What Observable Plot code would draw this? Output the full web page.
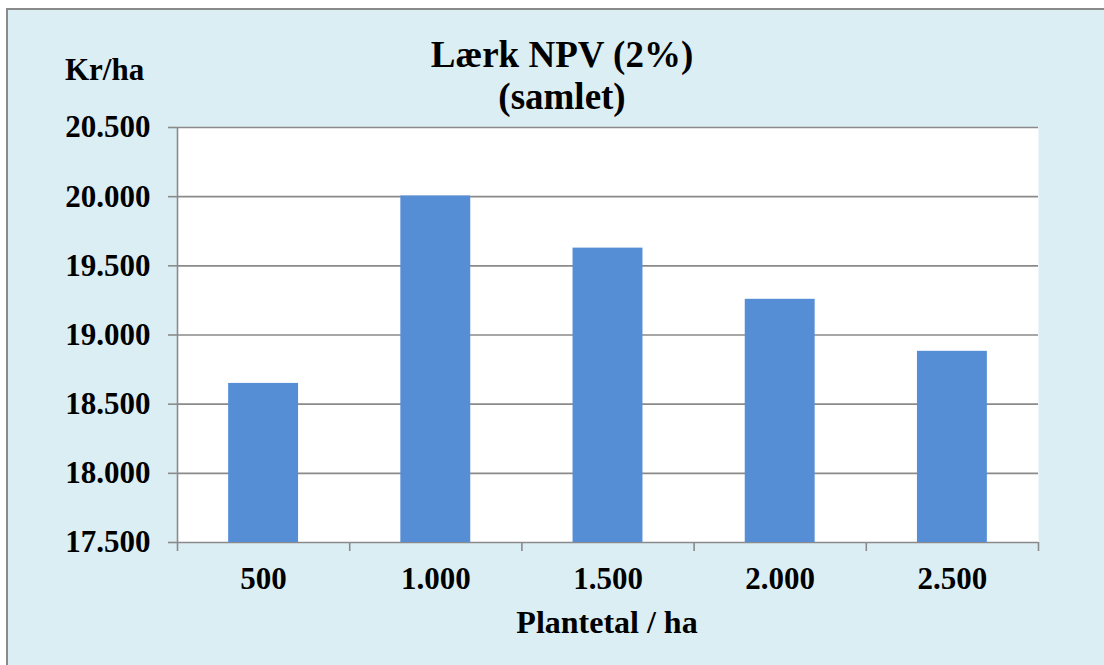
<!DOCTYPE html>
<html>
<head>
<meta charset="utf-8">
<script src="https://cdn.jsdelivr.net/npm/d3@7"></script>
<script src="https://cdn.jsdelivr.net/npm/@observablehq/plot@0.6"></script>
<style>
  html, body { margin: 0; padding: 0; background: #DBEEF4; overflow: hidden; width: 1104px; height: 665px; }
  #wrap { position: relative; width: 1104px; height: 665px; overflow: hidden; background: #DBEEF4; }
  #topstrip { position: absolute; left: 0; top: 0; width: 1104px; height: 8px; background: #ffffff; }
  #leftstrip { position: absolute; left: 0; top: 0; width: 6px; height: 665px; background: #ffffff; }
  #frame { position: absolute; left: 6px; top: 8px; width: 1098px; height: 657px;
           border-left: 2px solid #8a8a8a; border-top: 2px solid #8a8a8a; box-sizing: border-box; }
  .t { position: absolute; font-family: "Liberation Serif", "Times New Roman", serif; font-weight: bold;
       color: #000; line-height: 1; white-space: nowrap; }
  #chart { position: absolute; left: 0; top: 0; }
</style>
</head>
<body>
<div id="wrap">
  <div id="topstrip"></div>
  <div id="leftstrip"></div>
  <div id="frame"></div>
  <div class="t" id="title1" style="font-size:37px; top:36px; left:562px; transform:translateX(-50%);">Lærk NPV (2%)</div>
  <div class="t" id="title2" style="font-size:37px; top:78px; left:562px; transform:translateX(-50%);">(samlet)</div>
  <div class="t" id="ylab" style="font-size:31px; top:54px; left:65px;">Kr/ha</div>
  <div class="t" id="xlab" style="font-size:32px; top:606px; left:607px; transform:translateX(-50%);">Plantetal / ha</div>
  <div id="chart"></div>
</div>
<script>
const categories = ["500", "1.000", "1.500", "2.000", "2.500"];
const values = [18650, 20005, 19628, 19258, 18882];
const yTicks = [17500, 18000, 18500, 19000, 19500, 20000, 20500];
const yDomain = [17500, 20500];

const data = categories.map((c, i) => ({ i, category: c, value: values[i] }));
const fmt = d3.formatLocale({ decimal: ",", thousands: ".", grouping: [3], currency: ["", ""] }).format(",.0f");
const gridColor = "#8a8a8a";

const chart = Plot.plot({
  width: 1104,
  height: 665,
  marginLeft: 177,
  marginRight: 66,
  marginTop: 127,
  marginBottom: 123,
  style: { background: "transparent", fontFamily: "Liberation Serif, Times New Roman, serif", fontSize: "31px", fontWeight: "bold", color: "#000", overflow: "visible" },
  x: { type: "linear", domain: [0, categories.length], axis: null },
  y: { domain: yDomain, axis: null },
  marks: [
    Plot.frame({ fill: "white", stroke: null }),
    Plot.gridY(yTicks, { stroke: gridColor, strokeOpacity: 1, strokeWidth: 1.6 }),
    Plot.ruleX([0], { stroke: gridColor, strokeWidth: 1.6 }),
    Plot.rectY(data, { x1: d => d.i + 0.297, x2: d => d.i + 0.703, y1: yDomain[0], y2: "value", fill: "#558ED5" }),
    Plot.axisY({ ticks: yTicks, tickSize: 9, tickPadding: 18, tickFormat: fmt, stroke: gridColor, strokeWidth: 1.6, label: null }),
    Plot.axisX({ ticks: d3.range(categories.length + 1), tickSize: 9, tickFormat: () => "", stroke: gridColor, strokeWidth: 1.6, label: null }),
    Plot.axisX({ ticks: categories.map((c, i) => i + 0.5), tickSize: 0, tickPadding: 24, tickFormat: d => categories[Math.floor(d)], label: null })
  ]
});
document.getElementById("chart").appendChild(chart);
</script>
</body>
</html>
